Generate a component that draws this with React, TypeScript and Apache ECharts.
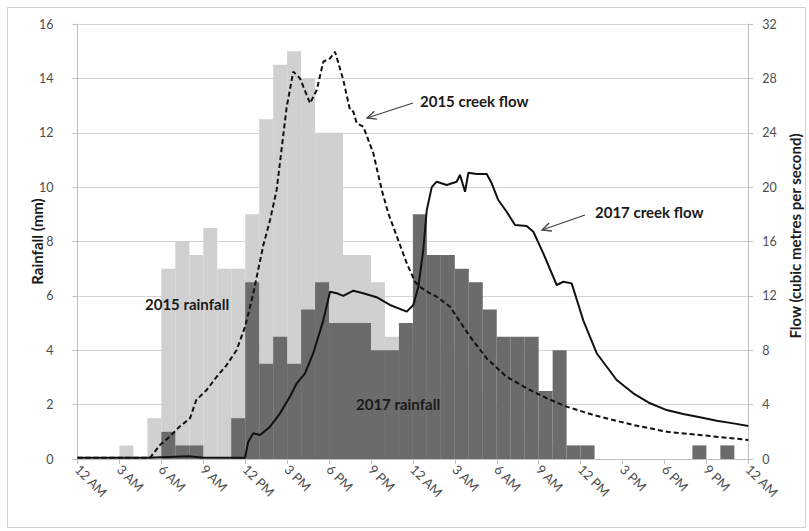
import React, { useEffect, useRef } from "react";
import * as echarts from "echarts";

// hourly categories (48 one-hour bins across two days)
const hourBins: string[] = [
  "0","1","2","3","4","5","6","7","8","9","10","11","12","13","14","15","16","17","18","19","20","21","22","23",
  "24","25","26","27","28","29","30","31","32","33","34","35","36","37","38","39","40","41","42","43","44","45","46","47",
];

const tickLabels: string[] = [
  "12 AM","3 AM","6 AM","9 AM","12 PM","3 PM","6 PM","9 PM",
  "12 AM","3 AM","6 AM","9 AM","12 PM","3 PM","6 PM","9 PM","12 AM",
];

const rain2015: number[] = [
  0,0,0,0.5,0,1.5,7,8,7.5,8.5,7,7,9,12.5,14.5,15,14,12,12,7.5,7.5,6.5,4.5,4,
  3.5,3,4,3.5,2.5,2,1.5,1,0.5,0.5,0,0,0,0,0,0,0,0,0,0,0,0,0,0,
];

const rain2017: number[] = [
  0,0,0,0,0,0,1,0.5,0.5,0,0,1.5,6.5,3.5,4.5,3.5,5.5,6.5,5,5,5,4,4,5,
  9,7.5,7.5,7,6.5,5.5,4.5,4.5,4.5,2.5,4,0.5,0.5,0,0,0,0,0,0,0,0.5,0,0.5,0,
];

const flow2015Hours: number[] = [
  0,5.2,5.9,6.6,7.3,8.05,8.5,9.24,9.96,10.67,11.39,11.99,12.58,13.3,13.78,14.25,14.97,15.44,15.92,16.64,
  17.12,17.59,18.07,18.43,19.02,19.5,19.74,19.98,20.45,21.17,21.77,22.24,22.84,23.56,24.15,24.5,25.22,25.7,
  26.66,28.09,29.28,30.7,32.14,33.57,35.0,36.9,38.8,39.8,42.2,44.5,48,
];
const flow2015Values: number[] = [
  0.1,0.1,1.03,1.64,2.38,2.99,4.34,5.08,6.05,6.91,8.02,9.73,12.19,15.74,17.58,19.79,25.9,28.5,28.0,26.17,
  27.14,29.23,29.47,29.96,27.88,25.67,25.55,24.7,24.45,22.49,19.79,18.07,16.4,14.4,13.04,12.67,12.19,11.94,
  11.2,9.0,7.4,6.05,5.2,4.47,3.85,3.24,2.75,2.5,2.0,1.77,1.4,
];

const flow2017Hours: number[] = [
  0,5,8,9,10,11.99,12.22,12.58,13.06,13.78,14.49,15.2,15.69,16.28,16.87,17.59,18.07,18.55,19.02,19.74,
  20.45,21.4,22.36,23.56,24.03,24.39,24.74,24.99,25.35,25.7,26.42,27.13,27.37,27.73,27.97,28.56,29.28,29.64,
  30.11,30.71,31.31,32.14,32.62,33.33,34.29,34.76,35.36,35.96,36.19,37.15,38.58,39.77,40.97,42.16,43.35,
  44.54,45.74,46.93,48,
];
const flow2017Values: number[] = [
  0.1,0.1,0.2,0.1,0.1,0.1,1.27,1.89,1.77,2.38,3.36,4.58,5.57,6.3,7.78,10.2,12.3,12.19,12.0,12.38,
  12.19,11.9,11.33,10.84,11.33,12.67,15.37,18.3,20.0,20.4,20.16,20.4,20.9,19.66,21.06,20.96,20.96,20.28,
  19.05,18.19,17.21,17.14,16.72,15.13,12.8,13.04,12.92,10.96,10.2,7.78,5.81,4.83,4.1,3.6,3.31,
  3.07,2.82,2.62,2.43,
];

const FONT = "Lato, 'Open Sans', sans-serif";
const LABEL_COLOR = "#4d4d4d";
const AXIS_COLOR = "#bfbfbf";

function arrow(x1: number, y1: number, x2: number, y2: number) {
  const dx = x2 - x1;
  const dy = y2 - y1;
  const len = Math.hypot(dx, dy);
  const ux = dx / len;
  const uy = dy / len;
  const L = 10;
  const a = (25 * Math.PI) / 180;
  const w1 = [x2 - L * (ux * Math.cos(a) - uy * Math.sin(a)), y2 - L * (ux * Math.sin(a) + uy * Math.cos(a))];
  const w2 = [x2 - L * (ux * Math.cos(a) + uy * Math.sin(a)), y2 - L * (-ux * Math.sin(a) + uy * Math.cos(a))];
  return [
    { type: "line", shape: { x1, y1, x2, y2 }, style: { stroke: "#404040", lineWidth: 1.3 } },
    { type: "polyline", shape: { points: [w1, [x2, y2], w2] }, style: { stroke: "#404040", lineWidth: 1.3, fill: null } },
  ];
}

function textEl(text: string, x: number, y: number, opts: any = {}) {
  return {
    type: "text",
    x,
    y,
    rotation: opts.rotation || 0,
    style: {
      text,
      font: `bold ${opts.size || 13}px ${FONT}`,
      fill: opts.fill || "#1a1a1a",
      align: opts.align || "left",
      verticalAlign: "middle",
      textAlign: opts.align || "left",
      textVerticalAlign: "middle",
    },
    z: 100,
  };
}

export default function App() {
  const ref = useRef<HTMLDivElement>(null);

  useEffect(() => {
    if (!ref.current) return;
    const chart = echarts.init(ref.current, undefined, { renderer: "svg" });

    const flow2015 = flow2015Hours.map((h, i) => [h, flow2015Values[i]]);
    const flow2017 = flow2017Hours.map((h, i) => [h, flow2017Values[i]]);

    const option: any = {
      animation: false,
      backgroundColor: "#ffffff",
      textStyle: { fontFamily: FONT },
      grid: { left: 77.5, right: 60.7, top: 24, bottom: 72, containLabel: false },
      xAxis: [
        {
          type: "category",
          data: hourBins,
          boundaryGap: true,
          show: false,
        },
        {
          type: "value",
          min: 0,
          max: 48,
          interval: 3,
          position: "bottom",
          axisLine: { show: true, onZero: false, lineStyle: { color: AXIS_COLOR, width: 1 } },
          axisTick: { show: true, length: 5, lineStyle: { color: AXIS_COLOR } },
          splitLine: { show: false },
          axisLabel: {
            rotate: -45,
            margin: 8,
            color: LABEL_COLOR,
            fontSize: 13,
            fontFamily: FONT,
            formatter: (v: number) => tickLabels[Math.round(v / 3)] ?? "",
          },
        },
      ],
      yAxis: [
        {
          type: "value",
          min: 0,
          max: 16,
          interval: 2,
          position: "left",
          axisLine: { show: true, lineStyle: { color: AXIS_COLOR } },
          axisTick: { show: true, length: 5, lineStyle: { color: AXIS_COLOR } },
          splitLine: { show: true, lineStyle: { color: "#d4d4d4", width: 1 } },
          axisLabel: { color: LABEL_COLOR, fontSize: 12.5, fontFamily: FONT, margin: 24 },
        },
        {
          type: "value",
          min: 0,
          max: 32,
          interval: 4,
          position: "right",
          axisLine: { show: true, lineStyle: { color: AXIS_COLOR } },
          axisTick: { show: true, length: 5, lineStyle: { color: AXIS_COLOR } },
          splitLine: { show: false },
          axisLabel: { color: LABEL_COLOR, fontSize: 12.5, fontFamily: FONT, margin: 14 },
        },
      ],
      series: [
        {
          name: "2015 rainfall",
          type: "bar",
          xAxisIndex: 0,
          yAxisIndex: 0,
          data: rain2015,
          barWidth: "100%",
          barGap: "-100%",
          itemStyle: { color: "#d0d0d0" },
          z: 2,
        },
        {
          name: "2017 rainfall",
          type: "bar",
          xAxisIndex: 0,
          yAxisIndex: 0,
          data: rain2017,
          barWidth: "100%",
          barGap: "-100%",
          itemStyle: { color: "#6b6b6b" },
          z: 3,
        },
        {
          name: "2015 creek flow",
          type: "line",
          xAxisIndex: 1,
          yAxisIndex: 1,
          data: flow2015,
          showSymbol: false,
          symbol: "none",
          lineStyle: { color: "#111111", width: 2, type: [5, 3] },
          z: 5,
        },
        {
          name: "2017 creek flow",
          type: "line",
          xAxisIndex: 1,
          yAxisIndex: 1,
          data: flow2017,
          showSymbol: false,
          symbol: "none",
          lineStyle: { color: "#111111", width: 2 },
          z: 6,
        },
      ],
      graphic: [
        {
          type: "rect",
          shape: { x: 7.5, y: 7.5, width: 798, height: 520 },
          style: { fill: null, stroke: "#d0d0d0", lineWidth: 1 },
          z: -1,
          silent: true,
        },
        textEl("Rainfall (mm)", 37, 241.5, { rotation: Math.PI / 2, align: "center", size: 15 }),
        textEl("Flow (cubic metres per second)", 795, 236, { rotation: Math.PI / 2, align: "center", size: 15 }),
        textEl("2015 creek flow", 420, 101, { size: 15 }),
        textEl("2017 creek flow", 595, 212, { size: 15 }),
        textEl("2015 rainfall", 145, 304, { size: 15 }),
        textEl("2017 rainfall", 356, 404, { size: 15 }),
        ...arrow(413, 103, 367, 118),
        ...arrow(585, 215, 542, 230),
      ],
    };

    chart.setOption(option);
    return () => chart.dispose();
  }, []);

  return (
    <div
      ref={ref}
      style={{ position: "absolute", left: 0, top: 0, width: 809, height: 531, background: "#fff" }}
    />
  );
}
